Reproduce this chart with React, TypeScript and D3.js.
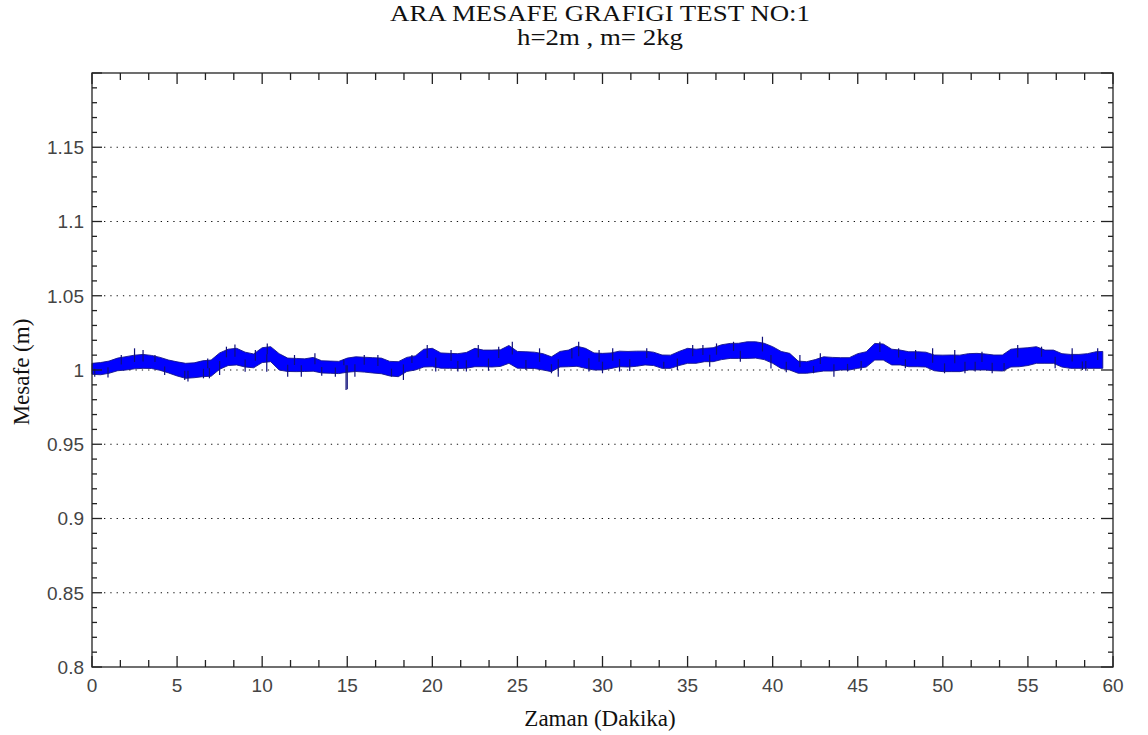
import React from "react";
import * as d3 from "d3";

// ---- data ----
const TITLE_1 = "ARA MESAFE GRAFIGI TEST NO:1";
const TITLE_2 = "h=2m , m= 2kg";
const X_LABEL = "Zaman (Dakika)";
const Y_LABEL = "Mesafe (m)";

const X_TICKS = [0, 5, 10, 15, 20, 25, 30, 35, 40, 45, 50, 55, 60];
const Y_TICKS = [0.8, 0.85, 0.9, 0.95, 1, 1.05, 1.1, 1.15];
const Y_TICK_TEXT = ["0.8", "0.85", "0.9", "0.95", "1", "1.05", "1.1", "1.15"];
const GRID_VALUES = [0.85, 0.9, 0.95, 1, 1.05, 1.1, 1.15];

// sample times (minutes), every half minute
const TIMES = [
  0, 0.5, 1, 1.5, 2, 2.5, 3, 3.5, 4, 4.5, 5, 5.5, 6, 6.5, 7, 7.5, 8, 8.5, 9, 9.5,
  10, 10.5, 11, 11.5, 12, 12.5, 13, 13.5, 14, 14.5, 15, 15.5, 16, 16.5, 17, 17.5, 18, 18.5, 19, 19.5,
  20, 20.5, 21, 21.5, 22, 22.5, 23, 23.5, 24, 24.5, 25, 25.5, 26, 26.5, 27, 27.5, 28, 28.5, 29, 29.5,
  30, 30.5, 31, 31.5, 32, 32.5, 33, 33.5, 34, 34.5, 35, 35.5, 36, 36.5, 37, 37.5, 38, 38.5, 39, 39.5,
  40, 40.5, 41, 41.5, 42, 42.5, 43, 43.5, 44, 44.5, 45, 45.5, 46, 46.5, 47, 47.5, 48, 48.5, 49, 49.5,
  50, 50.5, 51, 51.5, 52, 52.5, 53, 53.5, 54, 54.5, 55, 55.5, 56, 56.5, 57, 57.5, 58, 58.5, 59, 59.4,
];

// upper envelope of the noisy signal
const UPPER = [
  1.0045, 1.005, 1.006, 1.008, 1.009, 1.01, 1.0105, 1.0098, 1.0085, 1.0067,
  1.0055, 1.0045, 1.0048, 1.0062, 1.0067, 1.0115, 1.014, 1.0146, 1.012, 1.0108,
  1.015, 1.0157, 1.011, 1.008, 1.0078, 1.0075, 1.0085, 1.0062, 1.006, 1.0058,
  1.008, 1.0089, 1.0086, 1.0083, 1.008, 1.0058, 1.0056, 1.0085, 1.0095, 1.014,
  1.0146, 1.0115, 1.0112, 1.011, 1.0118, 1.0146, 1.0134, 1.0134, 1.0136, 1.0165,
  1.0125, 1.0123, 1.012, 1.011, 1.0089, 1.0125, 1.0134, 1.016, 1.0146, 1.0115,
  1.0112, 1.0115, 1.0127, 1.0125, 1.0127, 1.0127, 1.012, 1.0101, 1.01, 1.0125,
  1.0146, 1.014, 1.0146, 1.015, 1.017, 1.0179, 1.018, 1.019, 1.019, 1.018,
  1.0157, 1.0125, 1.0112, 1.006, 1.0056, 1.007, 1.0089, 1.0085, 1.0083, 1.0083,
  1.011, 1.0123, 1.0179, 1.0175, 1.014, 1.0134, 1.0123, 1.0123, 1.012, 1.0101,
  1.01, 1.0101, 1.01, 1.011, 1.0112, 1.0108, 1.0101, 1.0101, 1.014, 1.0146,
  1.015, 1.0157, 1.0134, 1.0134, 1.011, 1.0105, 1.0105, 1.011, 1.0123, 1.0125,
];

// lower envelope of the noisy signal
const LOWER = [
  0.9971, 0.9968, 0.9978, 0.9995, 1.0, 1.0008, 1.0011, 1.001, 0.9998, 0.998,
  0.996, 0.9944, 0.9948, 0.9955, 0.9958, 1.0005, 1.003, 1.0034, 1.002, 1.0015,
  1.005, 1.0056, 1.0, 0.999, 0.9989, 0.999, 0.9992, 0.998, 0.9978, 0.9976,
  0.9985, 0.999, 0.9986, 0.998, 0.9975, 0.996, 0.9955, 0.999, 1.0, 1.002,
  1.0022, 1.0012, 1.0011, 1.001, 1.0012, 1.0022, 1.0022, 1.002, 1.0024, 1.0045,
  1.0012, 1.0011, 1.001, 1.0, 0.9989, 1.002, 1.0022, 1.0025, 1.0011, 1.0,
  1.0, 1.001, 1.0022, 1.002, 1.0025, 1.0034, 1.003, 1.0011, 1.0011, 1.003,
  1.0045, 1.0045, 1.0056, 1.0056, 1.007, 1.0078, 1.0078, 1.0078, 1.008, 1.007,
  1.0045, 1.001, 1.0, 0.9978, 0.9978, 0.9985, 0.9993, 0.9993, 1.0, 1.0,
  1.0011, 1.002, 1.0067, 1.0067, 1.0034, 1.0034, 1.0022, 1.0022, 1.002, 0.9995,
  0.9989, 0.9989, 0.9989, 1.0, 1.0, 1.0, 0.9995, 0.9993, 1.002, 1.0022,
  1.003, 1.0045, 1.0045, 1.0045, 1.002, 1.0011, 1.0011, 1.0011, 1.0011, 1.0011,
];

// individual noise spikes (time, value)
const SPIKE_T = [
  0.16, 0.94, 1.72, 2.5, 3.0, 3.7, 4.27, 5.45, 5.64, 6.55, 6.8, 6.9, 7.5, 7.9, 8.4, 9.0, 9.6, 10.27, 10.3,
  11.5, 11.9, 12.3, 13.1, 13.5, 14.3, 14.8, 14.93, 15.0, 15.45, 16.0, 16.8, 17.6, 18.3, 18.8, 19.7,
  20.2, 21.1, 21.5, 22.0, 22.7, 23.3, 23.9, 24.7, 25.5, 26.3, 27.0, 27.4, 28.2, 28.6, 29.2, 29.8,
  30.0, 30.6, 31.0, 31.6, 32.6, 33.6, 34.4, 35.3, 35.9, 36.3, 36.7, 37.7, 38.1, 39.4, 39.9, 40.8,
  41.6, 42.4, 42.8, 43.6, 44.4, 45.2, 46.3, 47.4, 47.8, 48.4, 49.4, 50.1, 50.7, 51.3, 51.9, 52.3,
  52.9, 53.6, 54.4, 55.8, 56.6, 57.6, 58.2, 58.4, 59.1,
];
const SPIKE_V = [
  0.9955, 0.995, 1.0101, 1.0146, 1.0134, 1.0101, 0.9966, 0.9933, 0.9922, 0.9944, 1.0078, 0.9944, 0.9966, 1.0157, 1.0172, 0.9989, 1.0134, 0.9989, 1.0179,
  0.9955, 1.0101, 0.9955, 1.0112, 0.9962, 0.9955, 1.007, 0.9866, 0.987, 0.9955, 1.0101, 1.0101, 0.9955, 0.9933, 1.0101, 1.0168,
  0.999, 1.0134, 0.999, 0.999, 1.0168, 0.9995, 1.0157, 1.019, 1.0, 1.0146, 0.9978, 0.9955, 1.0146, 1.019, 0.999, 1.0134,
  0.9978, 1.0146, 0.999, 0.9993, 1.0146, 1.0011, 1.0, 1.0168, 1.0168, 1.0022, 1.0179, 1.019, 1.0056, 1.0224, 1.001, 0.9985,
  1.0101, 0.9978, 1.0112, 0.9955, 0.999, 1.0, 1.019, 1.0146, 1.0011, 1.0134, 1.0146, 0.9978, 1.0134, 0.9978, 0.999, 1.0123,
  0.9978, 0.999, 1.0168, 1.0157, 1.0011, 1.0146, 1.0, 0.9995, 1.0146,
];

// ---- layout ----
const W = 1148;
const H = 735;
const L = 92;
const R = 1113;
const T = 73;
const B = 667;

export default function App() {
  const x = d3.scaleLinear().domain([0, 60]).range([L, R]);
  const y = d3.scaleLinear().domain([0.8, 1.2]).range([B, T]);

  const idx = TIMES.map((_, i) => i);
  const area = d3
    .area<number>()
    .x((i) => x(TIMES[i]))
    .y0((i) => y(LOWER[i]))
    .y1((i) => y(UPPER[i]))
    .curve(d3.curveLinear);

  const xMinor = d3.range(0, 60.001, 5 / 3).filter((v) => Math.abs(v / 5 - Math.round(v / 5)) > 1e-6);
  const yMinor = d3.range(0.8, 1.2001, 0.01).filter((v) => Math.abs(v / 0.05 - Math.round(v / 0.05)) > 1e-6);
  const yMajor = d3.range(0.8, 1.2001, 0.05);

  const mid = (t: number) => {
    const i = d3.bisectCenter(TIMES, t);
    return (UPPER[i] + LOWER[i]) / 2;
  };

  const axisColor = "#222";
  const labelFont = "'Liberation Sans', Arial, sans-serif";
  const serif = "'Liberation Serif', 'Times New Roman', serif";

  return (
    <div style={{ position: "absolute", left: 0, top: 0 }}>
      <svg width={W} height={H} style={{ display: "block", background: "#fff" }}>
        {/* title */}
        <text x={600} y={21} textAnchor="middle" fontFamily={serif} fontSize={23} fill="#111"
          textLength={420} lengthAdjust="spacingAndGlyphs">
          {TITLE_1}
        </text>
        <text x={600} y={45} textAnchor="middle" fontFamily={serif} fontSize={23} fill="#111"
          textLength={166} lengthAdjust="spacingAndGlyphs">
          {TITLE_2}
        </text>

        {/* grid */}
        {GRID_VALUES.map((v) => (
          <line key={"g" + v} x1={L + 12} x2={R - 16} y1={y(v)} y2={y(v)}
            stroke="#111" strokeWidth={1.2} strokeDasharray="1.3,5" />
        ))}

        {/* data band */}
        <path d={area(idx) || ""} fill="#0000ff" stroke="#14148c" strokeWidth={0.9} strokeLinejoin="miter" />
        {SPIKE_T.map((t, i) => (
          <line key={"s" + i} x1={x(t)} x2={x(t)} y1={y(mid(t))} y2={y(SPIKE_V[i])}
            stroke="#10107a" strokeWidth={1.2} />
        ))}

        {/* frame */}
        <rect x={L} y={T} width={R - L} height={B - T} fill="none" stroke={axisColor} strokeWidth={1.3} />

        {/* x ticks */}
        {X_TICKS.map((v) => (
          <g key={"xt" + v}>
            <line x1={x(v)} x2={x(v)} y1={B} y2={B - 11} stroke={axisColor} strokeWidth={1.3} />
            <line x1={x(v)} x2={x(v)} y1={T} y2={T + 11} stroke={axisColor} strokeWidth={1.3} />
            <text x={x(v)} y={692} textAnchor="middle" fontFamily={labelFont} fontSize={19} fill="#444">
              {v}
            </text>
          </g>
        ))}
        {xMinor.map((v, i) => (
          <g key={"xm" + i}>
            <line x1={x(v)} x2={x(v)} y1={B} y2={B - 7} stroke={axisColor} strokeWidth={1.3} />
            <line x1={x(v)} x2={x(v)} y1={T} y2={T + 7} stroke={axisColor} strokeWidth={1.3} />
          </g>
        ))}

        {/* y ticks */}
        {yMajor.map((v, i) => (
          <g key={"ym" + i}>
            <line x1={L} x2={L + 10} y1={y(v)} y2={y(v)} stroke={axisColor} strokeWidth={1.3} />
            <line x1={R} x2={R - 12} y1={y(v)} y2={y(v)} stroke={axisColor} strokeWidth={1.3} />
          </g>
        ))}
        {yMinor.map((v, i) => (
          <g key={"yn" + i}>
            <line x1={L} x2={L + 5} y1={y(v)} y2={y(v)} stroke={axisColor} strokeWidth={1.3} />
            <line x1={R} x2={R - 5} y1={y(v)} y2={y(v)} stroke={axisColor} strokeWidth={1.3} />
          </g>
        ))}
        {Y_TICKS.map((v, i) => (
          <text key={"yl" + v} x={84} y={y(v)} dy="0.36em" textAnchor="end" fontFamily={labelFont}
            fontSize={19} fill="#444">
            {Y_TICK_TEXT[i]}
          </text>
        ))}

        {/* axis titles */}
        <text x={600} y={726} textAnchor="middle" fontFamily={serif} fontSize={23} fill="#111">
          {X_LABEL}
        </text>
        <text transform={`translate(29, 372) rotate(-90)`} textAnchor="middle" fontFamily={serif}
          fontSize={23} fill="#111">
          {Y_LABEL}
        </text>
      </svg>
    </div>
  );
}
